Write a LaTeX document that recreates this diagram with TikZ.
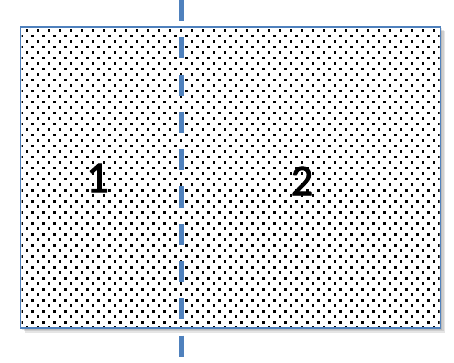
\documentclass[tikz,border=0pt]{standalone}
\usepackage{fontspec}
\setmainfont{Carlito}
\definecolor{lineblue}{HTML}{4F81BD}
\tikzset{
  boxframe/.style={draw=lineblue, line width=1.8pt},
  shadowlayer/.style={fill=black, fill opacity=0.10},
  divider/.style={draw=lineblue, line width=5pt, dash pattern=on 21pt off 16.3pt},
  numlabel/.style={font=\fontsize{44}{44}\selectfont, inner sep=0pt,
    text=black, draw=none},
  dot/.style={fill=black}
}
\begin{document}
\begin{tikzpicture}[x=1pt, y=-1pt]
\useasboundingbox (0,0) rectangle (454,363);
% soft shadow
\foreach \s in {1.5,3,4.5}{
  \path[shadowlayer] (20.5+\s,27+\s) rectangle (440.5+\s,328+\s);
}
\path[fill=white] (20.5,27) rectangle (440.5,328);
% dotted fill
\begin{scope}
\clip (21.5,28) rectangle (439.5,327);
\foreach \r in {0,...,55}{
  \pgfmathsetmacro{\yy}{30.7+5.5*\r}
  \pgfmathsetmacro{\xo}{mod(\r,2)==0 ? 27 : 21.5}
  \foreach \c in {0,...,39}{
    \fill[dot] ({\xo+11*\c-1.3},{\yy-1.3}) rectangle ++(2.6,2.6);
  }
}
\end{scope}
\draw[boxframe] (20.5,27) rectangle (440.5,328);
% divider
\coordinate (dtop) at (181.5,0);
\coordinate (dbot) at (181.5,357);
\draw[divider] (dtop) -- (dbot);
% labels (slightly emboldened)
\node[numlabel, postaction={}] (one) at (97.5,178)
  {\special{pdf:literal direct 2 Tr 0.9 w}1\special{pdf:literal direct 0 Tr}};
\node[numlabel] (two) at (302,181)
  {\special{pdf:literal direct 2 Tr 0.9 w}2\special{pdf:literal direct 0 Tr}};
\end{tikzpicture}
\end{document}
